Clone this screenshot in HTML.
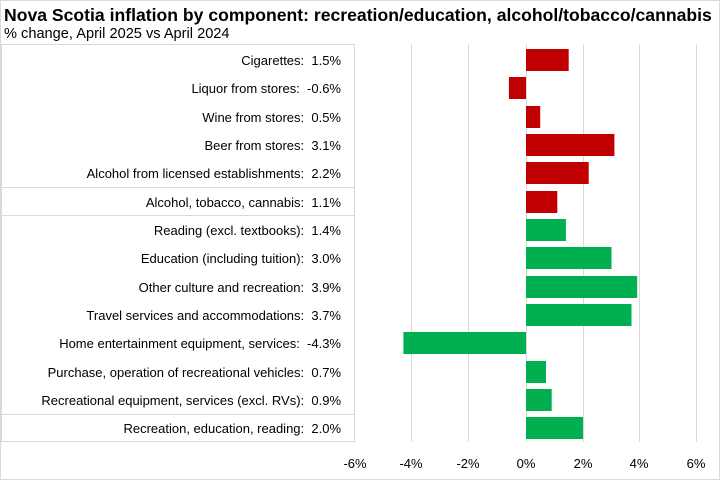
<!DOCTYPE html>
<html><head><meta charset="utf-8"><style>
body{margin:0;background:#fff;font-family:"Liberation Sans",Arial,sans-serif;}
</style></head><body>
<svg width="721" height="481" xmlns="http://www.w3.org/2000/svg" font-family="Liberation Sans, Arial, sans-serif">
<rect x="0.5" y="0.5" width="719" height="479" fill="#fff" stroke="#d9d9d9"/>
<text x="4" y="21" font-size="17.6" font-weight="bold" fill="#000">Nova Scotia inflation by component: recreation/education, alcohol/tobacco/cannabis</text>
<text x="4" y="38" font-size="14.6" fill="#000">% change, April 2025 vs April 2024</text>
<g stroke="#d9d9d9" stroke-width="1">
<line x1="411.5" y1="44" x2="411.5" y2="442"/>
<line x1="468.5" y1="44" x2="468.5" y2="442"/>
<line x1="526.5" y1="44" x2="526.5" y2="442"/>
<line x1="583.5" y1="44" x2="583.5" y2="442"/>
<line x1="639.5" y1="44" x2="639.5" y2="442"/>
<line x1="696.5" y1="44" x2="696.5" y2="442"/>
<rect x="1.5" y="44.5" width="353" height="397" fill="none"/>
<line x1="1" y1="187.5" x2="355" y2="187.5"/>
<line x1="1" y1="215.5" x2="355" y2="215.5"/>
<line x1="1" y1="414.5" x2="355" y2="414.5"/>
</g>
<g font-size="13" fill="#000" text-anchor="end">
<text x="341" y="65">Cigarettes:&#160; 1.5%</text>
<text x="341" y="93">Liquor from stores:&#160; -0.6%</text>
<text x="341" y="122">Wine from stores:&#160; 0.5%</text>
<text x="341" y="150">Beer from stores:&#160; 3.1%</text>
<text x="341" y="178">Alcohol from licensed establishments:&#160; 2.2%</text>
<text x="341" y="207">Alcohol, tobacco, cannabis:&#160; 1.1%</text>
<text x="341" y="235">Reading (excl. textbooks):&#160; 1.4%</text>
<text x="341" y="263">Education (including tuition):&#160; 3.0%</text>
<text x="341" y="292">Other culture and recreation:&#160; 3.9%</text>
<text x="341" y="320">Travel services and accommodations:&#160; 3.7%</text>
<text x="341" y="348">Home entertainment equipment, services:&#160; -4.3%</text>
<text x="341" y="377">Purchase, operation of recreational vehicles:&#160; 0.7%</text>
<text x="341" y="405">Recreational equipment, services (excl. RVs):&#160; 0.9%</text>
<text x="341" y="433">Recreation, education, reading:&#160; 2.0%</text>
</g>
<g fill="#c00000">
<rect x="526" y="49" width="42.7" height="22"/>
<rect x="508.9" y="77" width="17.1" height="22"/>
<rect x="526" y="106" width="14.2" height="22"/>
<rect x="526" y="134" width="88.4" height="22"/>
<rect x="526" y="162" width="62.7" height="22"/>
<rect x="526" y="191" width="31.3" height="22"/>
</g>
<g fill="#00b050">
<rect x="526" y="219" width="39.9" height="22"/>
<rect x="526" y="247" width="85.5" height="22"/>
<rect x="526" y="276" width="111.2" height="22"/>
<rect x="526" y="304" width="105.5" height="22"/>
<rect x="403.4" y="332" width="122.6" height="22"/>
<rect x="526" y="361" width="20" height="22"/>
<rect x="526" y="389" width="25.7" height="22"/>
<rect x="526" y="417" width="57" height="22"/>
</g>
<g font-size="13" fill="#000" text-anchor="middle">
<text x="355" y="468">-6%</text>
<text x="411" y="468">-4%</text>
<text x="468" y="468">-2%</text>
<text x="526" y="468">0%</text>
<text x="583" y="468">2%</text>
<text x="639" y="468">4%</text>
<text x="696" y="468">6%</text>
</g>
</svg>
</body></html>
